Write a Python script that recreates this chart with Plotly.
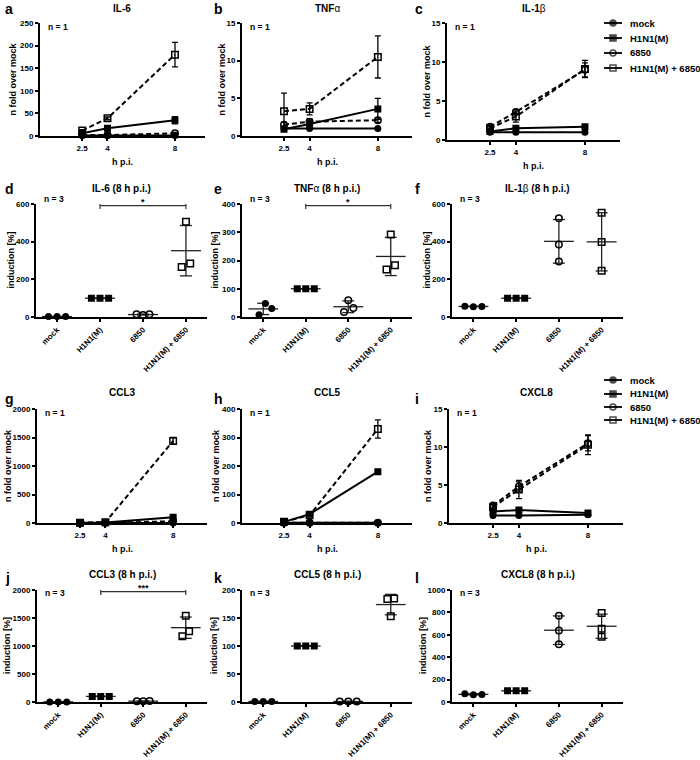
import numpy as np
import plotly.graph_objects as go

W, H = 700, 760
FONT = "Arial, 'Liberation Sans', Helvetica, sans-serif"

# ---------------- data ----------------
hours = [2.5, 4, 8]
hour_ticks = ["2.5", "4", "8"]
groups = ["mock", "H1N1(M)", "6850", "H1N1(M) + 6850"]

# time courses: n fold over mock (n = 1), value and error
il6_fold = {"mock": [1, 1, 1], "H1N1(M)": [6, 17, 35], "6850": [2, 2, 6], "H1N1(M) + 6850": [12, 39, 180]}
il6_fold_err = {"mock": [0, 0, 0], "H1N1(M)": [1, 2, 8], "6850": [0, 0, 2], "H1N1(M) + 6850": [2, 3, 27]}

tnf_fold = {"mock": [1.0, 1.0, 1.0], "H1N1(M)": [0.9, 1.6, 3.6], "6850": [1.5, 1.9, 2.1], "H1N1(M) + 6850": [3.3, 3.6, 10.5]}
tnf_fold_err = {"mock": [0.1, 0.1, 0.1], "H1N1(M)": [0.2, 0.5, 1.4], "6850": [0.3, 0.4, 0.3], "H1N1(M) + 6850": [2.4, 0.8, 2.8]}

il1b_fold = {"mock": [1.0, 1.0, 1.0], "H1N1(M)": [1.1, 1.5, 1.7], "6850": [1.7, 3.6, 9.0], "H1N1(M) + 6850": [1.5, 3.0, 9.1]}
il1b_fold_err = {"mock": [0.1, 0.1, 0.1], "H1N1(M)": [0.1, 0.2, 0.2], "6850": [0.2, 0.3, 0.9], "H1N1(M) + 6850": [0.2, 0.7, 1.1]}

ccl3_fold = {"mock": [1, 1, 1], "H1N1(M)": [3, 8, 100], "6850": [2, 3, 30], "H1N1(M) + 6850": [5, 15, 1440]}
ccl3_fold_err = {"mock": [0, 0, 0], "H1N1(M)": [1, 2, 10], "6850": [0, 0, 3], "H1N1(M) + 6850": [1, 2, 60]}

ccl5_fold = {"mock": [1, 1, 1], "H1N1(M)": [4, 31, 180], "6850": [1, 1, 1], "H1N1(M) + 6850": [4, 27, 330]}
ccl5_fold_err = {"mock": [0, 0, 0], "H1N1(M)": [0, 1, 3], "6850": [0, 0, 0], "H1N1(M) + 6850": [0, 2, 32]}

cxcl8_fold = {"mock": [1.0, 1.0, 1.1], "H1N1(M)": [1.5, 1.7, 1.3], "6850": [2.3, 4.8, 10.5], "H1N1(M) + 6850": [2.1, 4.4, 10.3]}
cxcl8_fold_err = {"mock": [0.1, 0.1, 0.1], "H1N1(M)": [0.1, 0.2, 0.1], "6850": [0.2, 0.6, 1.0], "H1N1(M) + 6850": [0.3, 1.2, 1.3]}

# induction [%] at 8 h p.i. (n = 3 replicates)
il6_ind = {"mock": [2, 3, 2], "H1N1(M)": [100, 100, 100], "6850": [15, 10, 14], "H1N1(M) + 6850": [506, 266, 284]}
tnf_ind = {"mock": [8, 48, 30], "H1N1(M)": [100, 100, 100], "6850": [18, 59, 32], "H1N1(M) + 6850": [168, 292, 183]}
il1b_ind = {"mock": [57, 55, 56], "H1N1(M)": [100, 100, 100], "6850": [525, 385, 295], "H1N1(M) + 6850": [554, 398, 245]}
ccl3_ind = {"mock": [2, 2, 2], "H1N1(M)": [100, 100, 100], "6850": [15, 14, 16], "H1N1(M) + 6850": [1176, 1541, 1265]}
ccl5_ind = {"mock": [1, 1, 1], "H1N1(M)": [100, 100, 100], "6850": [1, 1, 1], "H1N1(M) + 6850": [184, 153, 185]}
cxcl8_ind = {"mock": [74, 65, 66], "H1N1(M)": [100, 100, 100], "6850": [770, 638, 515], "H1N1(M) + 6850": [794, 653, 582]}

# ---------------- layout / style config ----------------
panels = [
    dict(letter="a", title="<b>IL-6</b>", kind="tc", data=il6_fold, err=il6_fold_err, n="n = 1",
         box=(40, 205, 23, 136), xr=[0, 9.78], yr=[0, 250], dt=50, ytx=12, ylab="n fold over mock"),
    dict(letter="b", title="<b>TNF</b>α", kind="tc", data=tnf_fold, err=tnf_fold_err, n="n = 1",
         box=(242, 412, 23, 136), xr=[0.04, 10], yr=[0, 15], dt=5, ytx=221, ylab="n fold over mock"),
    dict(letter="c", title="<b>IL-1</b>β", kind="tc", data=il1b_fold, err=il1b_fold_err, n="n = 1",
         box=(447, 620, 23, 140), xr=[0.01, 10.03], yr=[0, 15], dt=5, ytx=426, ylab="n fold over mock"),
    dict(letter="d", title="<b>IL-6 (8 h p.i.)</b>", kind="sc", data=il6_ind, n="n = 3", sig="*",
         box=(36, 207, 204, 317), xr=[-0.49, 3.49], yr=[0, 600], dt=200, ytx=11, ylab="induction [%]",
         jit={"6850": [-0.15, 0, 0.15], "H1N1(M) + 6850": [0, -0.1, 0.1]}),
    dict(letter="e", title="<b>TNF</b>α<b> (8 h p.i.)</b>", kind="sc", data=tnf_ind, n="n = 3", sig="*",
         box=(242, 412, 204, 317), xr=[-0.5, 3.5], yr=[0, 400], dt=100, ytx=215, ylab="induction [%]",
         jit={"mock": [-0.1, 0.05, 0.2], "6850": [-0.1, 0, 0.12], "H1N1(M) + 6850": [-0.1, 0, 0.1]}),
    dict(letter="f", title="<b>IL-1</b>β<b> (8 h p.i.)</b>", kind="sc", data=il1b_ind, n="n = 3",
         box=(452, 623, 204, 317), xr=[-0.5, 3.5], yr=[0, 600], dt=200, ytx=427, ylab="induction [%]",
         jit={"6850": [0, 0, 0], "H1N1(M) + 6850": [0, 0, 0]}),
    dict(letter="g", title="<b>CCL3</b>", kind="tc", data=ccl3_fold, err=ccl3_fold_err, n="n = 1",
         box=(37, 207, 409, 523), xr=[-0.04, 10.0], yr=[0, 2000], dt=500, ytx=8, ylab="n fold over mock"),
    dict(letter="h", title="<b>CCL5</b>", kind="tc", data=ccl5_fold, err=ccl5_fold_err, n="n = 1",
         box=(242, 412, 409, 523), xr=[0.04, 10], yr=[0, 400], dt=100, ytx=216, ylab="n fold over mock"),
    dict(letter="i", title="<b>CXCL8</b>", kind="tc", data=cxcl8_fold, err=cxcl8_fold_err, n="n = 1",
         box=(449, 623, 409, 523), xr=[-0.05, 10.03], yr=[0, 15], dt=5, ytx=428, ylab="n fold over mock"),
    dict(letter="j", title="<b>CCL3 (8 h p.i.)</b>", kind="sc", data=ccl3_ind, n="n = 3", sig="***",
         box=(37, 207, 590, 702), xr=[-0.5, 3.5], yr=[0, 2000], dt=500, ytx=7, ylab="induction [%]",
         jit={"6850": [-0.15, 0, 0.15], "H1N1(M) + 6850": [-0.08, 0, 0.08]}),
    dict(letter="k", title="<b>CCL5 (8 h p.i.)</b>", kind="sc", data=ccl5_ind, n="n = 3",
         box=(242, 412, 590, 702), xr=[-0.5, 3.5], yr=[0, 200], dt=50, ytx=214, ylab="induction [%]",
         jit={"6850": [-0.2, 0, 0.2], "H1N1(M) + 6850": [-0.08, 0, 0.08]}),
    dict(letter="l", title="<b>CXCL8 (8 h p.i.)</b>", kind="sc", data=cxcl8_ind, n="n = 3",
         box=(452, 623, 590, 702), xr=[-0.5, 3.5], yr=[0, 1000], dt=200, ytx=423, ylab="induction [%]",
         jit={"6850": [0, 0, 0], "H1N1(M) + 6850": [0, 0, 0]}),
]

styles = {
    "mock": dict(symbol="circle", dash="solid", size=5.5),
    "H1N1(M)": dict(symbol="square", dash="solid", size=5.5),
    "6850": dict(symbol="circle-open", dash="5px,3px", size=6.5),
    "H1N1(M) + 6850": dict(symbol="square-open", dash="5px,3px", size=6.5),
}

letter_y = {0: 9, 1: 189, 2: 399, 3: 578}
title_y = {0: 8, 1: 188, 2: 392, 3: 574}
n_dy = {0: 4, 1: -5, 2: 4, 3: 3}
letter_x = [3, 212, 413]
xtitle_dy = 26

fig = go.Figure()
ann = []
layout = {}


def px2paper(xp, yp):
    return xp / W, 1 - yp / H


def add_text(xp, yp, s, size, xanchor="center", yanchor="middle", angle=0, weight="bold"):
    x, y = px2paper(xp, yp)
    ann.append(dict(x=x, y=y, xref="paper", yref="paper", text=s, showarrow=False,
                    xanchor=xanchor, yanchor=yanchor, textangle=angle,
                    font=dict(family=FONT, size=size, color="black", weight=weight)))


tickfont = dict(family=FONT, size=8, color="black", weight="bold")
catfont = dict(family=FONT, size=8, color="black", weight="bold")

for i, p in enumerate(panels, start=1):
    row, col = (i - 1) // 3, (i - 1) % 3
    left, right, top, bottom = p["box"]
    xk = "xaxis" if i == 1 else f"xaxis{i}"
    yk = "yaxis" if i == 1 else f"yaxis{i}"
    xa = dict(domain=[left / W, right / W], range=p["xr"], anchor=f"y{i}", showline=True, linewidth=2,
              linecolor="black", ticks="outside", ticklen=3, tickwidth=2, tickcolor="black",
              showgrid=False, zeroline=False, tickfont=tickfont, fixedrange=True, automargin=False)
    if p["kind"] == "tc":
        xa.update(tickvals=hours, ticktext=hour_ticks)
    else:
        xa.update(tickvals=[0, 1, 2, 3], ticktext=groups, tickangle=-45, tickfont=catfont)
    ya = dict(domain=[1 - bottom / H, 1 - top / H], range=p["yr"], anchor=f"x{i}", showline=True,
              linewidth=2, linecolor="black", ticks="outside", ticklen=3, tickwidth=2, tickcolor="black",
              showgrid=False, zeroline=False, tickfont=tickfont, fixedrange=True, automargin=False,
              tickvals=list(range(p["yr"][0], p["yr"][1] + 1, p["dt"])))
    layout[xk] = xa
    layout[yk] = ya
    xr, yr = f"x{i}", f"y{i}"

    if p["kind"] == "tc":
        for g in groups:
            st = styles[g]
            fig.add_trace(go.Scatter(
                x=hours, y=p["data"][g], mode="lines+markers", name=g, showlegend=False,
                error_y=dict(type="data", array=p["err"][g], visible=True, thickness=1.3, width=3, color="black"),
                line=dict(color="black", width=2, dash=st["dash"]),
                marker=dict(symbol=st["symbol"], size=st["size"], color="black", line=dict(color="black", width=1.5)),
                xaxis=xr, yaxis=yr, cliponaxis=False))
        add_text((left + right) / 2, bottom + xtitle_dy, "h p.i.", 9)
    else:
        jit = p.get("jit", {})
        for gi, g in enumerate(groups):
            vals = np.array(p["data"][g], dtype=float)
            m = vals.mean()
            sd = vals.std(ddof=1)
            xs = [gi - 0.35, gi + 0.35, None, gi, gi, None, gi - 0.14, gi + 0.14, None, gi - 0.14, gi + 0.14]
            ys = [m, m, None, m - sd, m + sd, None, m - sd, m - sd, None, m + sd, m + sd]
            fig.add_trace(go.Scatter(x=xs, y=ys, mode="lines", line=dict(color="#222", width=1.3),
                                     showlegend=False, xaxis=xr, yaxis=yr, cliponaxis=False, hoverinfo="skip"))
            offs = jit.get(g, [-0.2, 0, 0.2])
            st = styles[g]
            fig.add_trace(go.Scatter(
                x=[gi + o for o in offs], y=vals, mode="markers", name=g, showlegend=False,
                marker=dict(symbol=st["symbol"], size=st["size"], color="black", line=dict(color="black", width=1.5)),
                xaxis=xr, yaxis=yr, cliponaxis=False))
        if p.get("sig"):
            yb = p["yr"][1] * 0.985
            tk = p["yr"][1] * 0.03
            fig.add_trace(go.Scatter(x=[1, 1, None, 1, 3, None, 3, 3], y=[yb - tk, yb + tk, None, yb, yb, None, yb - tk, yb + tk],
                                     mode="lines", line=dict(color="#333", width=1.2), showlegend=False,
                                     xaxis=xr, yaxis=yr, cliponaxis=False, hoverinfo="skip"))
            ann.append(dict(x=2, y=yb, xref=xr, yref=yr, text=p["sig"], showarrow=False, yanchor="bottom",
                            yshift=-3, font=dict(family=FONT, size=9, color="black", weight="bold")))

    # panel texts
    add_text(letter_x[col], letter_y[row], p["letter"], 14, xanchor="left")
    add_text((left + right) / 2, title_y[row], p["title"], 10, weight="normal")
    add_text(left + 6, top + n_dy[row], p["n"], 8.5, xanchor="left")
    add_text(p["ytx"], (top + bottom) / 2, p["ylab"], 9, angle=-90)

# ---------------- manual legends ----------------
layout["xaxis13"] = dict(domain=[0, 1], range=[0, W], visible=False, fixedrange=True, automargin=False)
layout["yaxis13"] = dict(domain=[0, 1], range=[H, 0], visible=False, fixedrange=True, anchor="x13", automargin=False)
legend_rows = [[23, 38, 53, 68], [380, 394, 407, 420]]
for rows in legend_rows:
    for g, yy in zip(groups, rows):
        st = styles[g]
        fig.add_trace(go.Scatter(x=[604, 613, 622], y=[yy, yy, yy], mode="lines+markers", showlegend=False,
                                 line=dict(color="black", width=1.8),
                                 marker=dict(symbol=st["symbol"], size=[0, 6, 0], color="black",
                                             line=dict(color="black", width=1.5)),
                                 xaxis="x13", yaxis="y13", cliponaxis=False, hoverinfo="skip"))
        add_text(628, yy, g, 9.5, xanchor="left")

fig.update_layout(template="none", width=W, height=H, margin=dict(l=0, r=0, t=0, b=0, pad=0),
                  paper_bgcolor="white", plot_bgcolor="rgba(0,0,0,0)", showlegend=False, annotations=ann,
                  font=dict(family=FONT, color="black"), **layout)

fig.write_html("out.html", config={"displayModeBar": False},
               post_script="document.body.style.margin='0';")
